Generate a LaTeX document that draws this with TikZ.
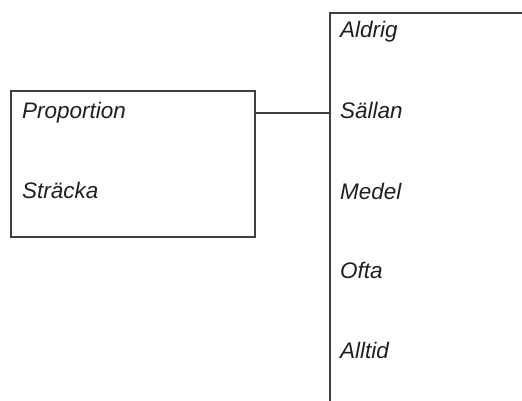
\documentclass[tikz,border=0pt]{standalone}
\usepackage{fontspec}
\setmainfont{Liberation Sans}
\usetikzlibrary{positioning,calc}

\begin{document}
\begin{tikzpicture}[x=1pt,y=-1pt,font=\fontsize{22.5}{26}\selectfont\itshape,
 box/.style={draw=black!75,line width=1.2pt,inner sep=0pt},
 lbl/.style={anchor=base west,inner sep=0pt,text=black!88},
 ln/.style={draw=black!75,line width=1.1pt}]
\useasboundingbox (0,0) rectangle (522,400);
\clip (0,0) rectangle (522,400);
\node[box,minimum width=244pt,minimum height=146pt] (lb) at (133,164) {};
\node[box,minimum width=240pt,minimum height=420pt] (rb) at (450,223) {};
\node[lbl] (pr) at (22,118) {Proportion};
\node[lbl] (st) at (22,198) {Sträcka};
\node[lbl] (al) at (340,37) {Aldrig};
\node[lbl] (sa) at (340,118) {Sällan};
\node[lbl] (me) at (340,199) {Medel};
\node[lbl] (of) at (340,278) {Ofta};
\node[lbl] (at) at (340,358) {Alltid};
\draw[ln] (lb.east |- 0,113) -- (rb.west |- 0,113);
\end{tikzpicture}
\end{document}
